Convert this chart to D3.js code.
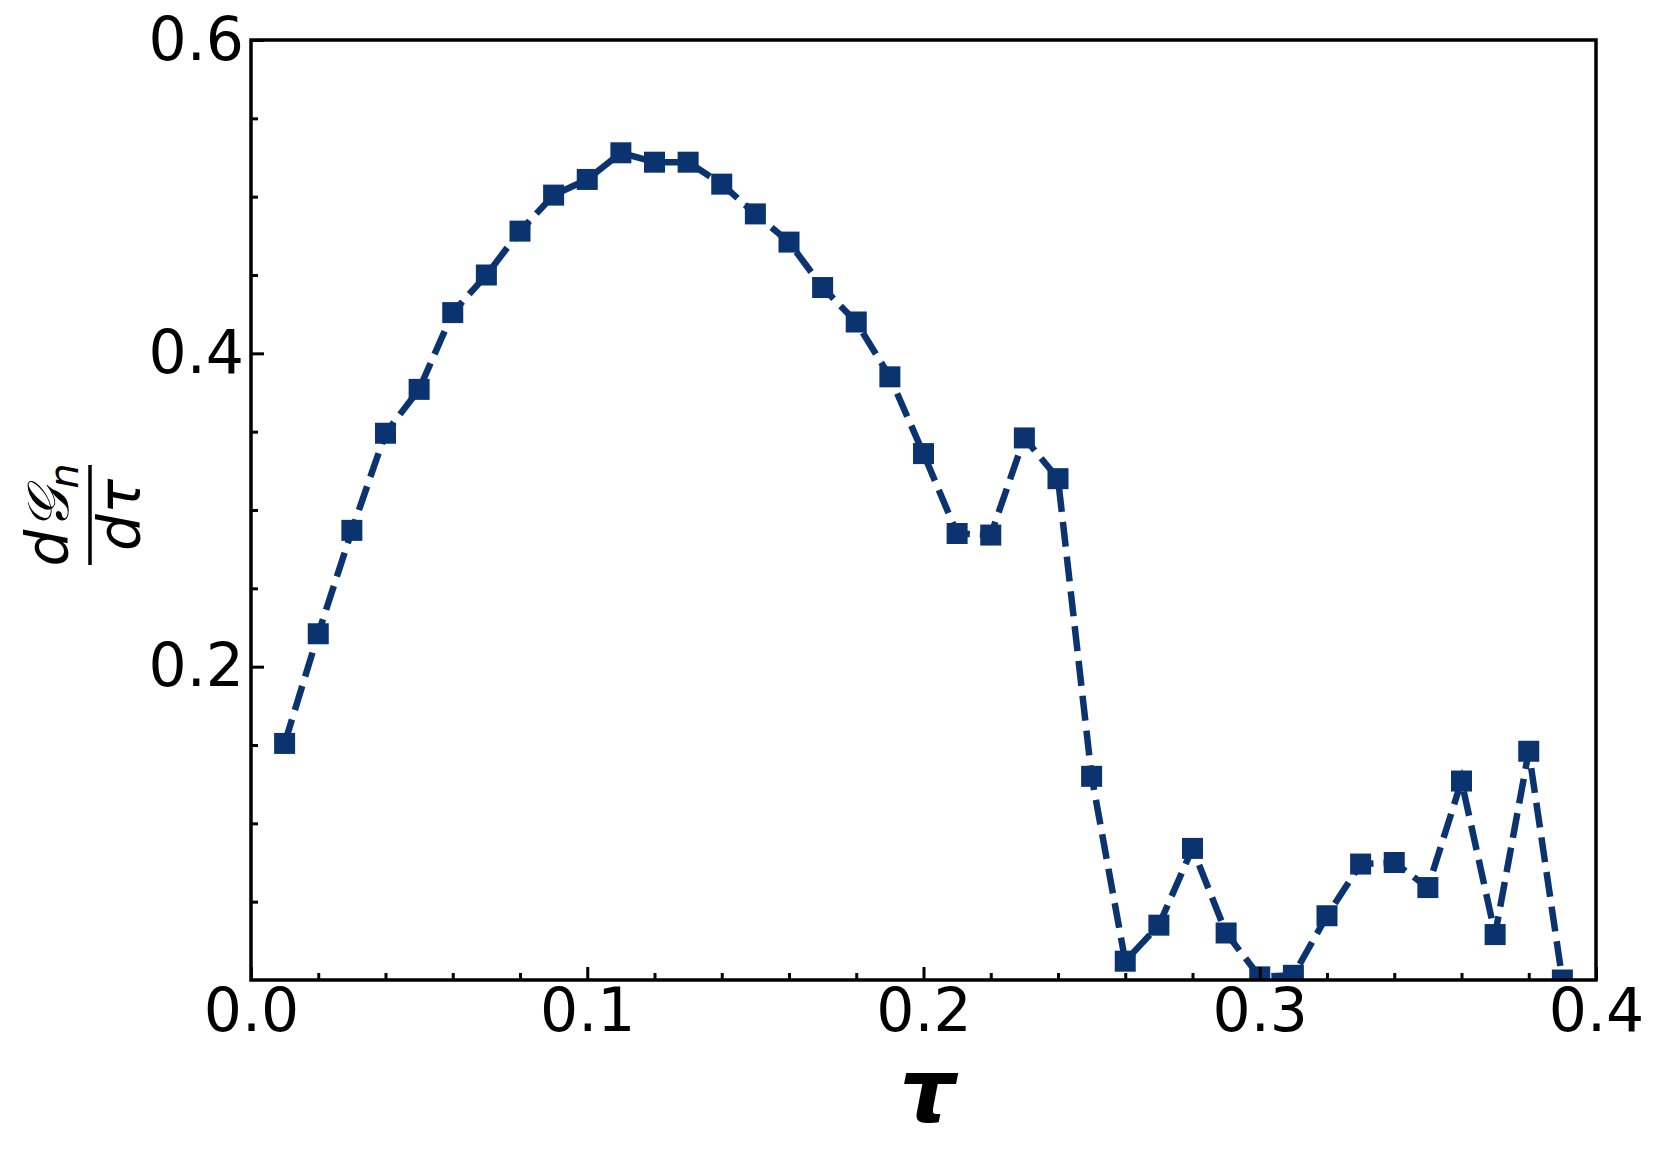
<!DOCTYPE html>
<html>
<head>
<meta charset="utf-8">
<script src="https://cdn.jsdelivr.net/npm/d3@7"></script>
<style>
  html, body { margin: 0; padding: 0; background: #fff; }
  svg { display: block; }
  text { font-family: "DejaVu Sans", sans-serif; fill: #000; }
</style>
</head>
<body>
<script>
// ---- data ----
const tau = [0.01,0.02,0.03,0.04,0.05,0.06,0.07,0.08,0.09,0.10,
             0.11,0.12,0.13,0.14,0.15,0.16,0.17,0.18,0.19,0.20,
             0.21,0.22,0.23,0.24,0.25,0.26,0.27,0.28,0.29,0.30,
             0.31,0.32,0.33,0.34,0.35,0.36,0.37,0.38,0.39];
const dGdtau = [0.151,0.221,0.287,0.349,0.377,0.426,0.450,0.478,0.501,0.511,
                0.528,0.522,0.522,0.508,0.489,0.471,0.442,0.420,0.385,0.336,
                0.285,0.284,0.346,0.320,0.130,0.012,0.035,0.084,0.030,0.002,
                0.003,0.041,0.074,0.075,0.059,0.127,0.029,0.146,0.000];
const xMajorTicks = [0.0,0.1,0.2,0.3,0.4];
const xMinorTicks = [0.02,0.04,0.06,0.08,0.12,0.14,0.16,0.18,0.22,0.24,0.26,0.28,0.32,0.34,0.36,0.38];
const yMajorTicks = [0.2,0.4,0.6];
const yMinorTicks = [0.05,0.1,0.15,0.25,0.3,0.35,0.45,0.5,0.55];

// ---- layout ----
const W = 1661, H = 1163;
const m = {left: 251, top: 40, right: 65, bottom: 183};
const w = W - m.left - m.right, h = H - m.top - m.bottom;
const color = "#0a3370";

const svg = d3.select("body").append("svg").attr("width", W).attr("height", H);
const g = svg.append("g").attr("transform", `translate(${m.left},${m.top})`);

const x = d3.scaleLinear().domain([0, 0.4]).range([0, w]);
const y = d3.scaleLinear().domain([0, 0.6]).range([h, 0]);

svg.append("defs").append("clipPath").attr("id", "clip")
  .append("rect").attr("x", 0).attr("y", 0).attr("width", w).attr("height", h);

// data
const plot = g.append("g").attr("clip-path", "url(#clip)");
const line = d3.line().x((d, i) => x(tau[i])).y(d => y(d));
plot.append("path").datum(dGdtau)
  .attr("d", line)
  .attr("fill", "none")
  .attr("stroke", color)
  .attr("stroke-width", 6.5)
  .attr("stroke-dasharray", "25,10");
const ms = 21;
plot.selectAll("rect.mk").data(dGdtau).enter().append("rect")
  .attr("class", "mk")
  .attr("x", (d, i) => x(tau[i]) - ms / 2)
  .attr("y", d => y(d) - ms / 2)
  .attr("width", ms).attr("height", ms)
  .attr("fill", color);

// axes
function styleAxis(sel) {
  sel.select(".domain").remove();
  sel.selectAll(".tick line").attr("stroke", "#000").attr("stroke-width", 3);
  sel.selectAll("text").attr("font-size", 60).attr("font-family", "DejaVu Sans");
}
const fmt = d3.format(".1f");
g.append("g").attr("transform", `translate(0,${h})`)
  .call(d3.axisBottom(x).tickValues(xMinorTicks).tickSize(-7).tickFormat(""))
  .call(styleAxis);
g.append("g").attr("transform", `translate(0,${h})`)
  .call(d3.axisBottom(x).tickValues(xMajorTicks).tickSize(-13).tickPadding(8).tickFormat(fmt))
  .call(styleAxis);
g.append("g")
  .call(d3.axisLeft(y).tickValues(yMinorTicks).tickSize(-7).tickFormat(""))
  .call(styleAxis);
g.append("g")
  .call(d3.axisLeft(y).tickValues(yMajorTicks).tickSize(-13).tickPadding(7).tickFormat(fmt))
  .call(styleAxis);

// frame
g.append("rect").attr("x", 0).attr("y", 0).attr("width", w).attr("height", h)
  .attr("fill", "none").attr("stroke", "#000").attr("stroke-width", 3.5);

// x label
svg.append("text")
  .attr("x", m.left + w / 2 + 4).attr("y", 1122)
  .attr("text-anchor", "middle")
  .attr("font-size", 88).attr("font-style", "italic").attr("font-weight", "bold")
  .text("τ");

// y label: fraction
const yl = svg.append("g").attr("transform", "translate(90,515) rotate(-90)");
yl.append("line").attr("x1", -50).attr("x2", 50).attr("y1", 0).attr("y2", 0)
  .attr("stroke", "#000").attr("stroke-width", 3.5);
const num = yl.append("text").attr("x", 0).attr("y", -22).attr("text-anchor", "middle")
  .attr("font-size", 58).attr("font-style", "italic");
num.append("tspan").text("d𝒢");
num.append("tspan").attr("font-size", 40).attr("dy", 10).text("n");
yl.append("text").attr("x", 0).attr("y", 50).attr("text-anchor", "middle")
  .attr("font-size", 58).attr("font-style", "italic").text("dτ");
</script>
</body>
</html>
